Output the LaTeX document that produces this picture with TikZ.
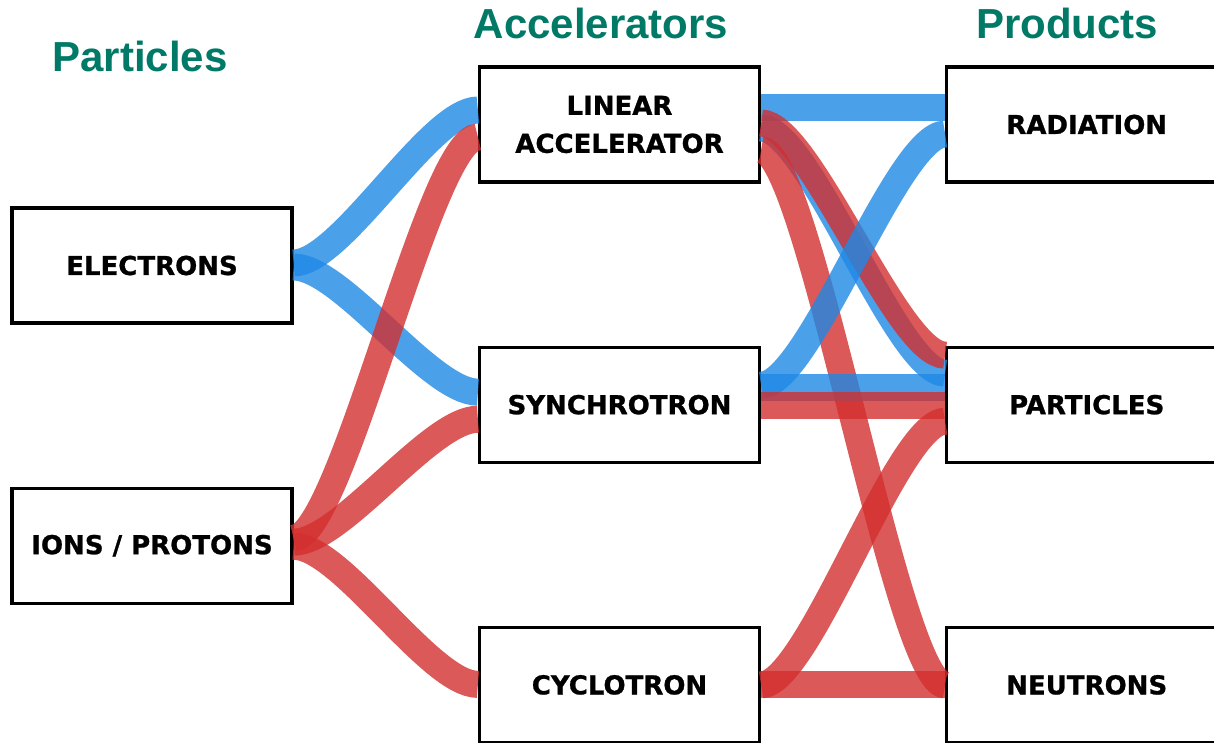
\documentclass[tikz,border=0pt]{standalone}
\usepackage{fontspec}
\setmainfont{DejaVu Sans}[BoldFeatures={FakeBold=1}]
\newfontfamily\headfont{Liberation Sans}
\usepackage{xcolor}
\usepackage{tikz}
\usetikzlibrary{positioning, calc}
\definecolor{headteal}{RGB}{0, 122, 102}
\definecolor{flowblue}{RGB}{30, 136, 229}
\definecolor{flowred}{RGB}{211, 47, 47}

\begin{document}
\begin{tikzpicture}[
    x=1pt, y=-1pt,
    box/.style={rectangle, draw=black, line width=3.2pt, fill=white,
                minimum width=280pt, minimum height=115pt, align=center,
                font=\fontsize{26}{38}\selectfont\bfseries},
    heading/.style={anchor=base, text=headteal,
                    font=\headfont\fontsize{42}{50}\selectfont\bfseries},
    flow/.style={line width=27pt, opacity=0.8,
                 to path={.. controls +(48,0) and +(-48,0) .. (\tikztotarget)}},
    blueflow/.style={flow, draw=flowblue},
    redflow/.style={flow, draw=flowred},
]
    \useasboundingbox (0,0) rectangle (1214,743);

    % Column headings
    \node[heading] (hpart) at (140,72) {Particles};
    \node[heading] (hacc) at (601,39) {Accelerators};
    \node[heading] (hprod) at (1067,39) {Products};

    % Left: particle sources
    \node[box] (elec) at (152,265.5) {ELECTRONS};
    \node[box, below=162pt of elec] (ions) {IONS / PROTONS};

    % Middle: accelerators
    \node[box] (linac) at (619.5,124.5) {LINEAR\\ACCELERATOR};
    \node[box, below=162pt of linac] (sync) {SYNCHROTRON};
    \node[box, below=162pt of sync] (cyc) {CYCLOTRON};

    % Right: products
    \node[box, right=184pt of linac] (rad) {RADIATION};
    \node[box, below=162pt of rad] (part) {PARTICLES};
    \node[box, below=162pt of part] (neu) {NEUTRONS};

    % Flows into accelerators
    \draw[blueflow] ($(elec.east)+(0,-2.5)$) to ($(linac.west)+(0,-14.5)$);
    \draw[blueflow] ($(elec.east)+(0,1.5)$) to ($(sync.west)+(0,-12.5)$);
    \draw[redflow] ($(ions.east)+(0,-7.5)$) to ($(linac.west)+(0,12.5)$);
    \draw[redflow] ($(ions.east)+(0,-3.5)$) to ($(sync.west)+(0,14.5)$);
    \draw[redflow] ($(ions.east)+(0,0.5)$) to ($(cyc.west)+(0,-0.5)$);

    % Flows into products
    \draw[blueflow] ($(linac.east)+(0,-16.5)$) to ($(rad.west)+(0,-16.5)$);
    \draw[blueflow] ($(linac.east)+(0,3.5)$) to ($(part.west)+(0,-31.5)$);
    \draw[redflow] ($(linac.east)+(0,-1.5)$) to ($(part.west)+(0,-49.5)$);
    \draw[redflow] ($(linac.east)+(0,25.5)$) to ($(neu.west)+(0,0)$);

    \draw[blueflow] ($(sync.east)+(0,-19.5)$) to ($(rad.west)+(0,9.5)$);
    \draw[blueflow] ($(sync.east)+(0,-17.5)$) to ($(part.west)+(0,-17.5)$);
    \draw[redflow] ($(sync.east)+(0,0.5)$) to ($(part.west)+(0,0.5)$);

    \draw[redflow] (cyc.east) to ($(part.west)+(0,16.5)$);
    \draw[redflow] (cyc.east) to (neu.west);
\end{tikzpicture}
\end{document}
